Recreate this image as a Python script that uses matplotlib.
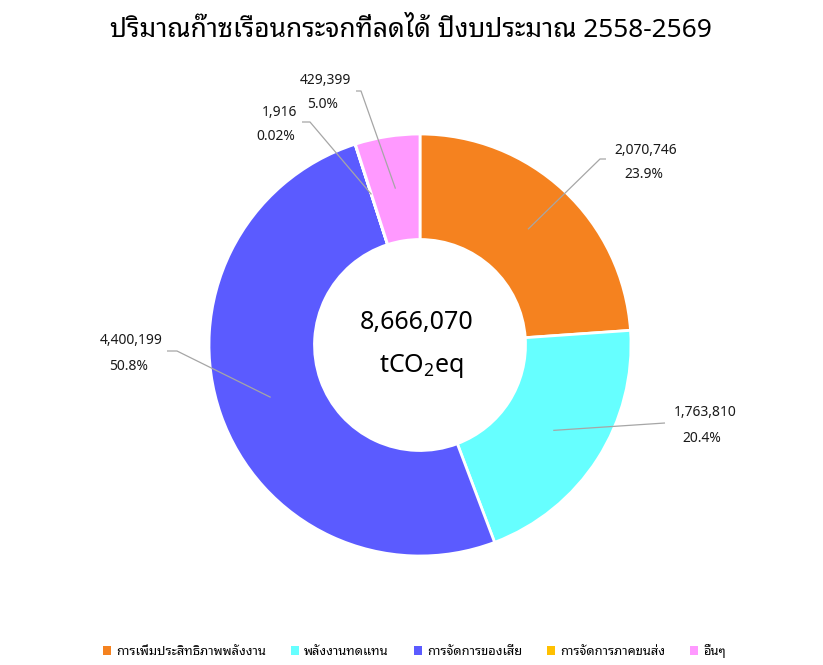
import matplotlib
matplotlib.use("Agg")
import matplotlib.pyplot as plt
import numpy as np

# ---- data ----
title = "ปริมาณก๊าซเรือนกระจกที่ลดได้ ปีงบประมาณ 2558-2569"
categories = ["การเพิ่มประสิทธิภาพพลังงาน", "พลังงานทดแทน", "การจัดการของเสีย",
              "การจัดการภาคขนส่ง", "อื่นๆ"]
values = [2070746, 1763810, 4400199, 1916, 429399]
value_labels = ["2,070,746", "1,763,810", "4,400,199", "1,916", "429,399"]
pct_labels = ["23.9%", "20.4%", "50.8%", "0.02%", "5.0%"]
colors = ["#F5821F", "#66FFFF", "#5B5BFF", "#FFC000", "#FF99FF"]
total_label = "8,666,070"
unit_label = "tCO$_2$eq"

FAM = ["Noto Sans Thai Looped", "Noto Sans", "DejaVu Sans"]
plt.rcParams['font.family'] = FAM
plt.rcParams['mathtext.fontset'] = 'custom'
plt.rcParams['mathtext.rm'] = 'Noto Sans'
plt.rcParams['mathtext.default'] = 'regular'

W, H = 823, 665
fig = plt.figure(figsize=(W / 100, H / 100), dpi=100)
ax = fig.add_axes([0, 0, 1, 1])
ax.axis("off")


def P(x, y):  # pixel (from top-left) -> data coords
    return (x, H - y)


cx, cy = P(420, 345)
R = 211
ring = R * 0.5
wedges, _ = ax.pie(values, colors=colors, startangle=90, counterclock=False,
                   radius=R, center=(cx, cy),
                   wedgeprops=dict(width=ring, edgecolor="white", linewidth=2))
ax.set_aspect("equal")
ax.set_xlim(0, W)
ax.set_ylim(0, H)

# label layout (pixels from top-left): elbow, end, value text centre, pct text centre
layout = [
    ((600, 159), (606, 159), (646, 150), (644, 174)),
    (None, (665, 423), (705, 413), (702, 438)),
    ((177, 351), (167, 351), (131, 341), (129, 366)),
    ((310, 122), (302, 122), (279, 113), (276, 137)),
    ((361, 91), (356, 91), (325, 80), (323, 104)),
]
rmid = R - ring / 2
for w, vl, pl, (elb, end, tv, tp) in zip(wedges, value_labels, pct_labels, layout):
    ang = np.deg2rad((w.theta1 + w.theta2) / 2)
    sx, sy = cx + rmid * np.cos(ang), cy + rmid * np.sin(ang)
    pts = [(sx, sy)]
    if elb is not None:
        pts.append(P(*elb))
    pts.append(P(*end))
    xs, ys = zip(*pts)
    ax.plot(xs, ys, color="#A6A6A6", lw=0.9, solid_capstyle="butt")
    ax.text(*P(*tv), vl, ha="center", va="center", fontsize=10, color="#1A1A1A")
    ax.text(*P(*tp), pl, ha="center", va="center", fontsize=10, color="#1A1A1A")

ax.text(*P(417, 322), total_label, ha="center", va="center", fontsize=18, color="black")
ax.text(*P(421, 366), unit_label, ha="center", va="center", fontsize=18, color="black")

# title fitted to reference width
t = fig.text(411 / W, 1 - 30 / H, title, ha="center", va="center",
             fontsize=18, fontweight="bold", color="black")
fig.canvas.draw()
bb = t.get_window_extent()
t.set_fontsize(18 * 602 / bb.width)

leg = ax.legend(wedges, categories, loc="center", bbox_to_anchor=(414.5 / W, 1 - 651 / H),
                bbox_transform=fig.transFigure, ncol=5, frameon=False, fontsize=9.3,
                handlelength=0.6, handleheight=0.6, handletextpad=0.4,
                columnspacing=1.95)
for h in leg.legend_handles:
    h.set_edgecolor("none")

fig.savefig("out.png", dpi=100)
